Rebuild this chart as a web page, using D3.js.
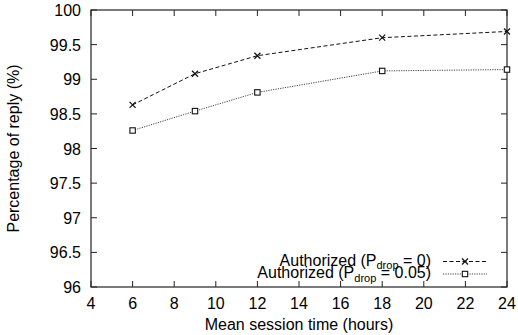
<!DOCTYPE html>
<html>
<head>
<meta charset="utf-8">
<script src="https://cdn.jsdelivr.net/npm/d3@7"></script>
<style>
  body { margin: 0; background: #fff; }
  text { font-family: "Liberation Sans", Arial, sans-serif; fill: #000; }
</style>
</head>
<body>
<svg id="chart" width="518" height="335"></svg>
<script>
// session time in hours
const hours = [6, 9, 12, 18, 24];
const replyNoDrop = [98.63, 99.08, 99.34, 99.6, 99.69];
const replyDrop05 = [98.26, 98.54, 98.81, 99.12, 99.14];
const xTicks = [4, 6, 8, 10, 12, 14, 16, 18, 20, 22, 24];
const yTicks = [96, 96.5, 97, 97.5, 98, 98.5, 99, 99.5, 100];

const svg = d3.select('#chart');
const mLeft = 91, mRight = 507, mTop = 10, mBottom = 287;
const fs = 16;

const x = d3.scaleLinear().domain([4, 24]).range([mLeft, mRight]);
const y = d3.scaleLinear().domain([96, 100]).range([mBottom, mTop]);

const tick = 6;
const g = svg.append('g');

// frame
g.append('rect')
  .attr('x', mLeft).attr('y', mTop)
  .attr('width', mRight - mLeft).attr('height', mBottom - mTop)
  .attr('fill', 'none').attr('stroke', '#222').attr('stroke-width', 1.2);

// x ticks (bottom and top, pointing inward)
xTicks.forEach(v => {
  g.append('line').attr('x1', x(v)).attr('x2', x(v)).attr('y1', mBottom).attr('y2', mBottom - tick)
    .attr('stroke', '#222');
  g.append('line').attr('x1', x(v)).attr('x2', x(v)).attr('y1', mTop).attr('y2', mTop + tick)
    .attr('stroke', '#222');
  g.append('text').attr('x', x(v)).attr('y', mBottom + 22)
    .attr('text-anchor', 'middle').attr('font-size', fs).text(v);
});

yTicks.forEach(v => {
  g.append('line').attr('x1', mLeft).attr('x2', mLeft + tick).attr('y1', y(v)).attr('y2', y(v))
    .attr('stroke', '#222');
  g.append('line').attr('x1', mRight).attr('x2', mRight - tick).attr('y1', y(v)).attr('y2', y(v))
    .attr('stroke', '#222');
  g.append('text').attr('x', mLeft - 10).attr('y', y(v) + 6)
    .attr('text-anchor', 'end').attr('font-size', fs).text(v);
});

// axis titles
svg.append('text').attr('x', x(14)).attr('y', 330)
  .attr('text-anchor', 'middle').attr('font-size', fs).text('Mean session time (hours)');
svg.append('text')
  .attr('transform', `translate(19,${(mTop + mBottom) / 2}) rotate(-90)`)
  .attr('text-anchor', 'middle').attr('font-size', fs).text('Percentage of reply (%)');

const line = d3.line().x(d => x(d[0])).y(d => y(d[1]));

const series = [
  { vals: replyNoDrop, dash: '4,2.5', color: '#111', width: 1, mark: 'x', sub: '0' },
  { vals: replyDrop05, dash: '1.2,1.2', color: '#444', width: 1, mark: 'sq', sub: '0.05' }
];

function marker(sel, mk, cx, cy) {
  if (mk === 'x') {
    sel.append('path')
      .attr('d', `M${cx - 3},${cy - 3}L${cx + 3},${cy + 3}M${cx - 3},${cy + 3}L${cx + 3},${cy - 3}`)
      .attr('stroke', '#111').attr('stroke-width', 1.2);
  } else {
    sel.append('rect').attr('x', cx - 2.7).attr('y', cy - 2.7).attr('width', 5.4).attr('height', 5.4)
      .attr('fill', '#fff').attr('stroke', '#111').attr('stroke-width', 1.1);
  }
}

series.forEach((s, i) => {
  const pts = hours.map((h, j) => [h, s.vals[j]]);
  g.append('path').datum(pts).attr('d', line)
    .attr('fill', 'none').attr('stroke', s.color)
    .attr('stroke-width', s.width).attr('stroke-dasharray', s.dash);
  pts.forEach(p => marker(g, s.mark, x(p[0]), y(p[1])));

  // legend row
  const ly = 261.5 + i * 12.5;
  const t = g.append('text').attr('x', 431).attr('y', ly + 4)
    .attr('text-anchor', 'end').attr('font-size', fs);
  t.append('tspan').text('Authorized (P');
  t.append('tspan').attr('font-size', 11).attr('dy', 3.5).text('drop');
  t.append('tspan').attr('dy', -3.5).text(` = ${s.sub})`);
  g.append('line').attr('x1', 443).attr('x2', 487).attr('y1', ly).attr('y2', ly)
    .attr('stroke', s.color).attr('stroke-width', s.width).attr('stroke-dasharray', s.dash);
  marker(g, s.mark, 465, ly);
});
</script>
</body>
</html>
